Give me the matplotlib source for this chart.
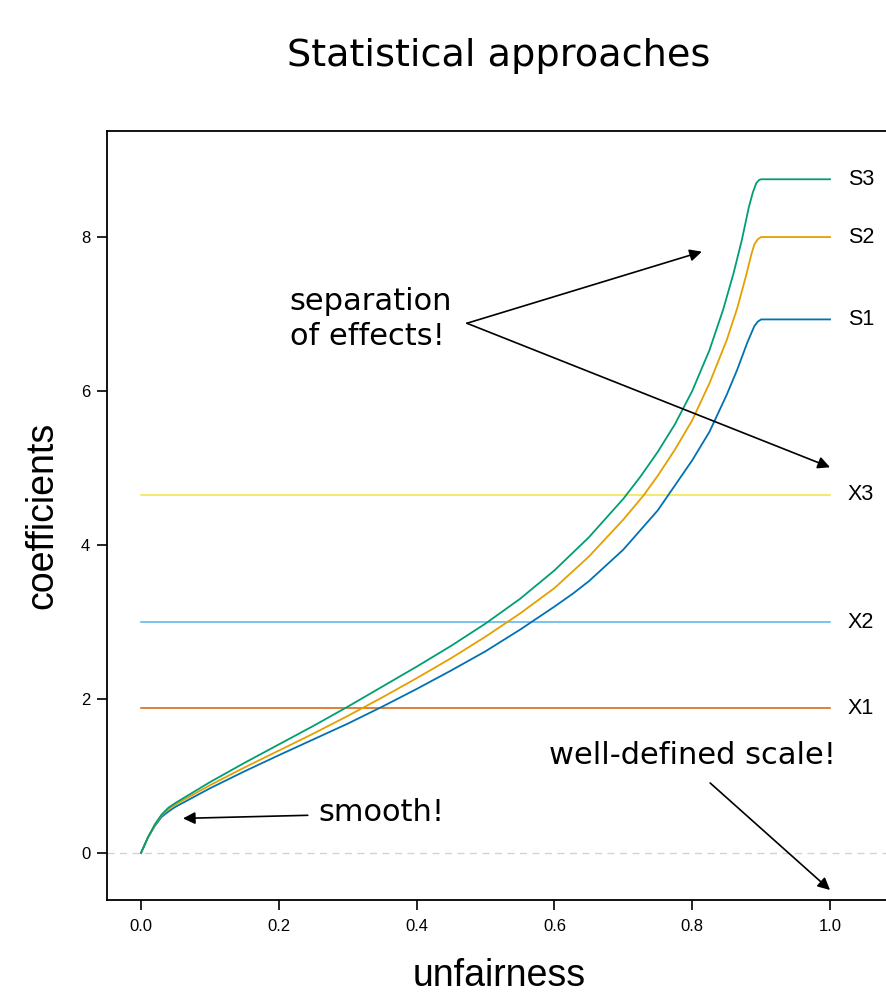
import numpy as np
import matplotlib.pyplot as plt

# coefficient paths
x_s1 = [0, 0.01, 0.02, 0.03, 0.04, 0.05, 0.1, 0.15, 0.2, 0.25, 0.3, 0.35, 0.4, 0.45, 0.5,
        0.55, 0.6, 0.627, 0.65, 0.7, 0.75, 0.8, 0.825, 0.85, 0.865, 0.88, 0.89, 0.895,
        0.9, 1.0]
s1 = [0, 0.2, 0.35, 0.47, 0.54, 0.6, 0.84, 1.06, 1.27, 1.475, 1.68, 1.9, 2.13, 2.37, 2.62,
      2.9, 3.2, 3.37, 3.53, 3.94, 4.45, 5.1, 5.47, 5.95, 6.27, 6.63, 6.84, 6.9,
      6.93, 6.93]

x_s2 = [0, 0.01, 0.02, 0.03, 0.04, 0.05, 0.1, 0.15, 0.2, 0.25, 0.3, 0.35, 0.4, 0.45, 0.5,
        0.55, 0.6, 0.65, 0.7, 0.729, 0.75, 0.775, 0.8, 0.825, 0.85, 0.8655, 0.8776, 0.886,
        0.89, 0.895, 0.9, 1.0]
s2 = [0, 0.2, 0.36, 0.49, 0.57, 0.63, 0.88, 1.11, 1.33, 1.55, 1.78, 2.02, 2.27, 2.53, 2.81,
      3.11, 3.44, 3.85, 4.33, 4.64, 4.9, 5.24, 5.62, 6.1, 6.66, 7.08, 7.48, 7.78,
      7.9, 7.97, 8.0, 8.0]

x_s3 = [0, 0.01, 0.02, 0.03, 0.04, 0.05, 0.1, 0.15, 0.2, 0.25, 0.3, 0.35, 0.4, 0.45, 0.5,
        0.55, 0.6, 0.65, 0.7, 0.725, 0.75, 0.775, 0.8, 0.825, 0.845, 0.86, 0.872, 0.882,
        0.888, 0.893, 0.897, 0.9, 1.0]
s3 = [0, 0.2, 0.37, 0.5, 0.59, 0.65, 0.92, 1.17, 1.41, 1.65, 1.9, 2.16, 2.42, 2.69, 2.98,
      3.3, 3.67, 4.1, 4.6, 4.89, 5.21, 5.57, 6.0, 6.53, 7.06, 7.53, 7.96, 8.38,
      8.58, 8.7, 8.74, 8.75, 8.75]

# constant coefficients
x_levels = {'X1': 1.88, 'X2': 3.0, 'X3': 4.65}
x_colors = {'X1': '#D55E00', 'X2': '#56B4E9', 'X3': '#F0E442'}

fig = plt.figure(figsize=(8.87, 9.93), dpi=100)
ax = fig.add_axes([107/887, 93/993, (891-107)/887, (900-131)/993])

ax.axhline(0, color='#d3d3d3', ls=(0, (5, 4)), lw=1, zorder=1)

for k, v in x_levels.items():
    ax.plot([0, 1], [v, v], color=x_colors[k], lw=1.1)
    ax.text(1.026, v, k, fontsize=15.5, family='Liberation Sans', va='center', ha='left')

for xs, ys, col, lab in [(x_s1, s1, '#0072B2', 'S1'), (x_s2, s2, '#E69F00', 'S2'),
                         (x_s3, s3, '#009E73', 'S3')]:
    ax.plot(xs, ys, color=col, lw=1.3)
    ax.text(1.026, ys[-1], lab, fontsize=15.5, family='Liberation Sans', va='center', ha='left')

arrow = dict(arrowstyle='-|>', color='black', lw=1.2, mutation_scale=18, shrinkA=0, shrinkB=0)
ax.text(0.216, 6.935, 'separation\nof effects!', fontsize=22, family='DejaVu Sans',
        va='center', ha='left', linespacing=1.3)
ax.annotate('', xy=(0.814, 7.81), xytext=(0.473, 6.88), arrowprops=arrow)
ax.annotate('', xy=(1.0, 5.01), xytext=(0.473, 6.88), arrowprops=arrow)

ax.text(0.257, 0.52, 'smooth!', fontsize=22, family='DejaVu Sans', va='center', ha='left')
ax.annotate('', xy=(0.061, 0.45), xytext=(0.242, 0.49), arrowprops=arrow)

ax.text(0.592, 1.27, 'well-defined scale!', fontsize=22, family='DejaVu Sans',
        va='center', ha='left')
ax.annotate('', xy=(1.0, -0.48), xytext=(0.826, 0.91), arrowprops=arrow)

ax.set_xlim(-0.0493, 1.0885)
ax.set_ylim(-0.61, 9.377)
ax.set_xticks([0, 0.2, 0.4, 0.6, 0.8, 1.0])
ax.set_xticklabels(['0.0', '0.2', '0.4', '0.6', '0.8', '1.0'])
ax.set_yticks([0, 2, 4, 6, 8])
for lbl in ax.get_xticklabels() + ax.get_yticklabels():
    lbl.set_family('Liberation Sans')
    lbl.set_fontsize(12)
ax.tick_params(direction='out', length=7, width=1.2, pad=7)
ax.tick_params(axis='y', pad=5)
for sp in ax.spines.values():
    sp.set_linewidth(1.3)

ax.set_xlabel('unfairness', fontsize=27, family='Liberation Sans', labelpad=17)
ax.set_ylabel('coefficients', fontsize=27, family='Liberation Sans', labelpad=15)
fig.suptitle('Statistical approaches', fontsize=27.5, family='DejaVu Sans', x=499/887,
             y=1-56/993, va='center')

fig.savefig('out.png', dpi=100)
